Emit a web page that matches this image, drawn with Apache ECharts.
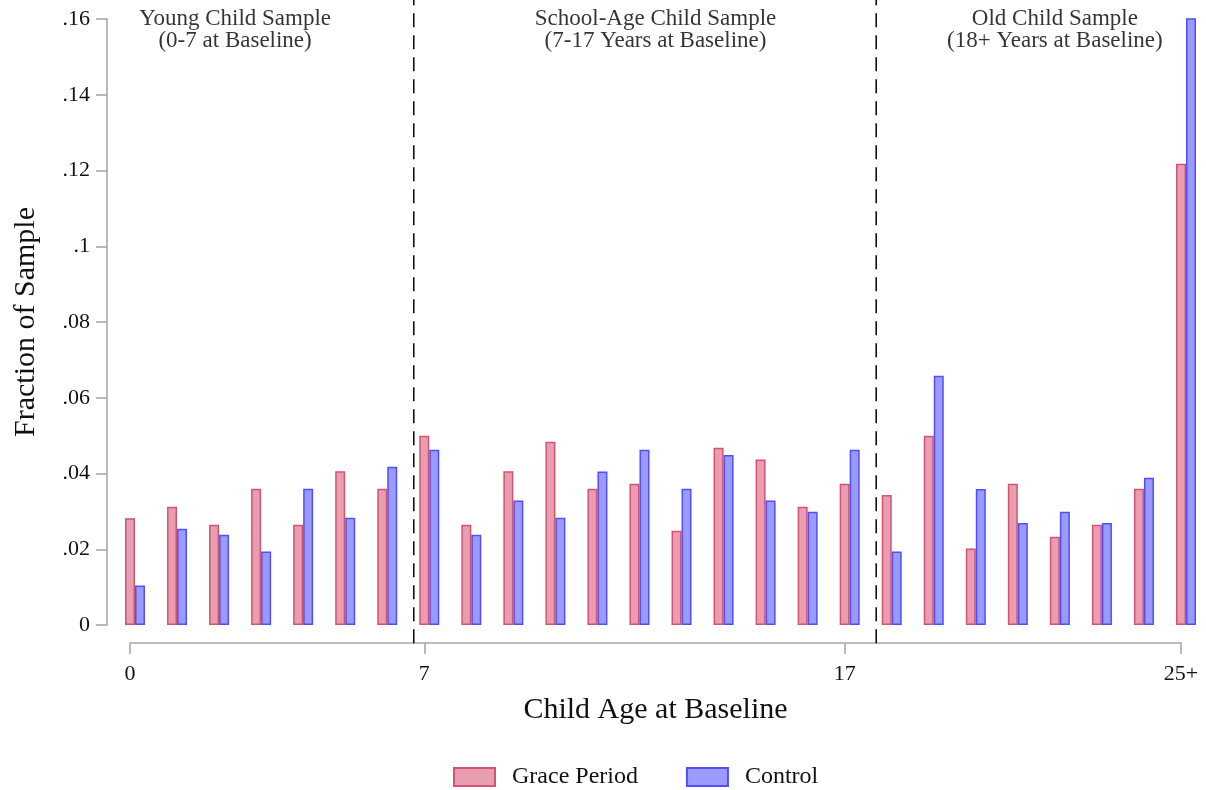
<!DOCTYPE html>
<html>
<head>
<meta charset="utf-8">
<script src="https://cdn.jsdelivr.net/npm/echarts@6/dist/echarts.min.js"></script>
<style>
html,body{margin:0;padding:0;background:#fff;}
#chart{width:1206px;height:790px;}
</style>
</head>
<body>
<div id="chart"></div>
<script>
// ---- data ----
const ages = [0,1,2,3,4,5,6,7,8,9,10,11,12,13,14,15,16,17,18,19,20,21,22,23,24,25];
const gracePeriod = [0.0282,0.0312,0.0265,0.0360,0.0265,0.0406,0.0360,0.0500,0.0265,0.0406,0.0484,0.0360,0.0373,0.0249,0.0468,0.0437,0.0312,0.0373,0.0343,0.0500,0.0202,0.0373,0.0233,0.0265,0.0360,0.1218];
const control = [0.0104,0.0254,0.0238,0.0194,0.0360,0.0283,0.0418,0.0463,0.0238,0.0329,0.0283,0.0405,0.0463,0.0360,0.0449,0.0329,0.0299,0.0463,0.0194,0.0658,0.0359,0.0269,0.0299,0.0269,0.0389,0.1602];
const xTickValues = [0,7,17,25];
const xTickLabels = ['0','7','17','25+'];
const dividers = [6.75, 17.75];
const panelX = [2.5, 12.5, 22];
const panelLabels = ['Young Child Sample\n(0-7 at Baseline)','School-Age Child Sample\n(7-17 Years at Baseline)','Old Child Sample\n(18+ Years at Baseline)'];
const seriesNames = ['Grace Period','Control'];

// ---- layout ----
const FONT = 'Liberation Serif';
const W = 1206, GL = 130, GR = 25, GT = 19, GB = 165;
const BAR_W = 10;
const unitPx = (W - GL - GR) / (ages[ages.length-1] - ages[0]);
const shift = (BAR_W / 2) / unitPx;   // so that first bar of each pair sits on the tick
const axisGray = '#a8a8a8';

const chart = echarts.init(document.getElementById('chart'), null, {renderer:'canvas'});

const divSeries = dividers.map(v => ({
  type:'line', xAxisIndex:0, yAxisIndex:0, clip:false, silent:true,
  symbol:'none', data:[[v,-0.0048],[v,0.166]],
  lineStyle:{color:'#111', width:1.6, type:[14,8]}, z:1
}));

const option = {
  backgroundColor:'#fff',
  animation:false,
  textStyle:{fontFamily:FONT},
  grid:{left:GL, right:GR, top:GT, bottom:GB, containLabel:false},
  legend:{
    data:seriesNames, top:760, left:448, icon:'rect',
    itemWidth:41, itemHeight:18, itemGap:48,
    textStyle:{fontFamily:FONT, fontSize:24, color:'#111', padding:[0,0,0,12]}
  },
  xAxis:[
    {
      type:'value', min:ages[0], max:ages[ages.length-1], offset:18,
      axisLine:{show:true, onZero:false, lineStyle:{color:axisGray, width:1.6}},
      axisTick:{show:true, customValues:xTickValues, length:11, lineStyle:{color:axisGray, width:1.6}},
      axisLabel:{customValues:xTickValues, margin:20, fontSize:22, color:'#111', fontFamily:FONT,
        formatter:v => xTickLabels[xTickValues.indexOf(v)]},
      splitLine:{show:false},
      name:'Child Age at Baseline', nameLocation:'middle', nameGap:52,
      nameTextStyle:{fontSize:30, color:'#111', fontFamily:FONT}
    },
    {
      type:'value', min:ages[0]-shift, max:ages[ages.length-1]-shift, show:false
    }
  ],
  yAxis:{
    type:'value', min:0, max:0.16, interval:0.02, offset:23,
    axisLine:{show:true, onZero:false, lineStyle:{color:axisGray, width:1.6}},
    axisTick:{show:true, length:11, lineStyle:{color:axisGray, width:1.6}},
    axisLabel:{fontSize:22, color:'#111', margin:17, fontFamily:FONT,
      formatter:v => v === 0 ? '0' : String(+v.toFixed(2)).replace(/^0/, '')},
    splitLine:{show:false},
    name:'Fraction of Sample', nameLocation:'middle', nameGap:66,
    nameTextStyle:{fontSize:30, color:'#111', fontFamily:FONT}
  },
  series:[
    {
      name:seriesNames[0], type:'bar', xAxisIndex:1, yAxisIndex:0, clip:false,
      barWidth:BAR_W, barGap:'0%',
      data:ages.map((a,i) => [a, gracePeriod[i]]),
      itemStyle:{color:'#E89EB0', borderColor:'#D4536F', borderWidth:1.5}, z:2
    },
    {
      name:seriesNames[1], type:'bar', xAxisIndex:1, yAxisIndex:0, clip:false,
      barWidth:BAR_W, barGap:'0%',
      data:ages.map((a,i) => [a, control[i]]),
      itemStyle:{color:'#9B9BFF', borderColor:'#4F4FFF', borderWidth:1.5}, z:2
    },
    ...divSeries,
    {
      type:'scatter', xAxisIndex:0, yAxisIndex:0, silent:true, clip:false,
      symbolSize:0, itemStyle:{color:'transparent'},
      data:panelX.map((x,i) => ({value:[x, 0.157], label:{formatter:panelLabels[i]}})),
      label:{show:true, position:'inside', color:'#000', fontSize:23, lineHeight:22,
        textBorderWidth:0, textBorderColor:'transparent',
        fontFamily:FONT, align:'center', verticalAlign:'middle'}
    }
  ]
};
chart.setOption(option);
</script>
</body>
</html>
